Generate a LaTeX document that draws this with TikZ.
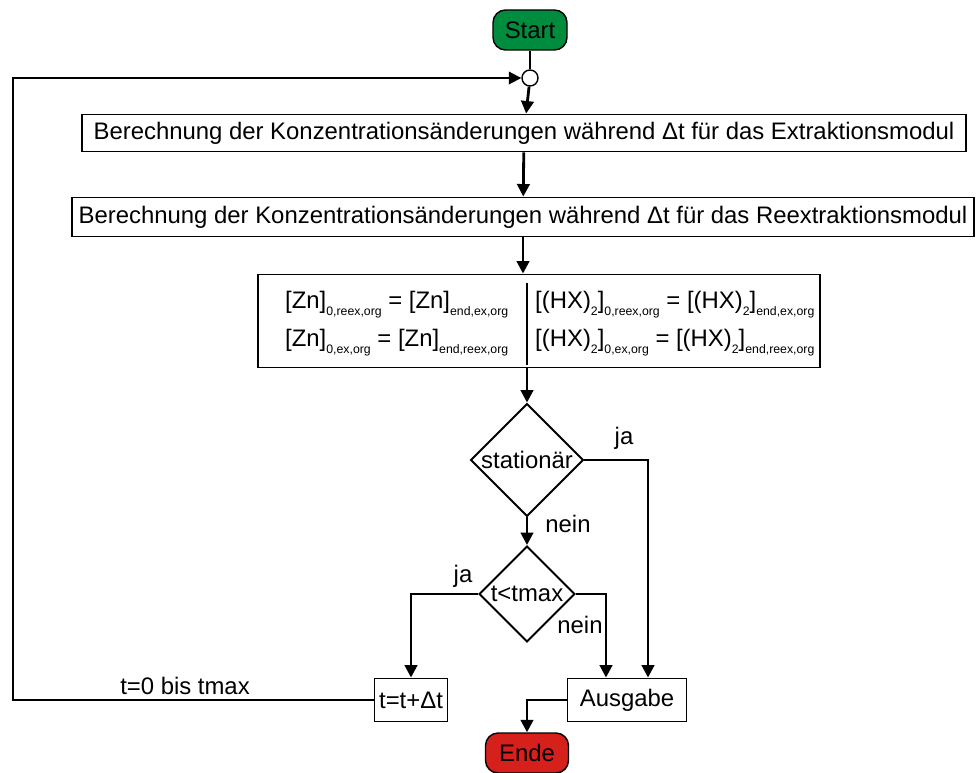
\documentclass[tikz,border=0pt]{standalone}
\usepackage{fontspec}
\setmainfont{Liberation Sans}
\usetikzlibrary{arrows.meta,positioning,shapes.geometric}

\definecolor{startgreen}{RGB}{0,140,62}
\definecolor{endred}{RGB}{214,32,28}
\newcommand\idx[1]{\raisebox{-0.55ex}{\fontsize{7}{8}\selectfont #1}}

\begin{document}
\begin{tikzpicture}[x=0.02cm,y=-0.02cm,
  font=\fontsize{13.6}{16}\selectfont,
  term/.style={rectangle, rounded corners=2.5mm, draw, line width=0.8pt, inner sep=0pt},
  calc/.style={rectangle, draw, line width=1.1pt, inner sep=0pt},
  decide/.style={diamond, draw, line width=1.1pt, inner sep=0pt, aspect=1},
  arrow/.style={-{Triangle[length=2.5mm,width=2.5mm]}, line width=1.6pt},
  link/.style={line width=1.1pt}
]
\useasboundingbox (0,0) rectangle (976,773);

% start, loop junction and the two balance steps
\node[term, fill=startgreen, minimum width=1.48cm, minimum height=0.8cm] (start) at (530,30) {Start};
\node[circle, draw, fill=white, line width=0.8pt, minimum size=0.32cm, inner sep=0pt] (join) at (530,78) {};
\node[calc, minimum width=17.7cm, minimum height=0.74cm] (ext) at (524,133)
  {Berechnung der Konzentrationsänderungen während Δt für das Extraktionsmodul};
\node[calc, minimum width=18.06cm, minimum height=0.78cm] (reex) at (523,217)
  {Berechnung der Konzentrationsänderungen während Δt für das Reextraktionsmodul};

% exchange of the start values between both modules
\node[calc, minimum width=11.24cm, minimum height=1.86cm] (swap) at (539,321) {};
\node[anchor=west] (zn1) at (279,305) {[Zn]\idx{0,reex,org} = [Zn]\idx{end,ex,org}};
\node[anchor=west] (zn2) at (279,343) {[Zn]\idx{0,ex,org} = [Zn]\idx{end,reex,org}};
\node[anchor=west] (hx1) at (529,305) {[(HX)\idx{2}]\idx{0,reex,org} = [(HX)\idx{2}]\idx{end,ex,org}};
\node[anchor=west] (hx2) at (529,343) {[(HX)\idx{2}]\idx{0,ex,org} = [(HX)\idx{2}]\idx{end,reex,org}};
\draw[line width=0.6pt] (527,283) -- (527,365);

% decisions
\node[decide, minimum size=2.26cm] (stat) at (527,460) {stationär};
\node[decide, minimum size=1.92cm] (tmax) at (527,594) {t<tmax};

% time step, output and end
\node[calc, minimum width=1.46cm, minimum height=0.86cm] (step) at (411,700) {t=t+Δt};
\node[calc, minimum width=2.38cm, minimum height=0.86cm] (out) at (627,700) {Ausgabe};
\node[term, fill=endred, minimum width=1.66cm, minimum height=0.8cm] (ende) at (527,753) {Ende};

\draw[link] (start) -- (join);
\draw[arrow] (join) -- (ext);
\draw[arrow] (ext) -- (reex);
\draw[arrow] (reex) -- (swap.north -| reex);
\draw[arrow] (swap.south -| stat) -- (stat);
\draw[arrow] (stat) -- (tmax);
\draw[arrow] (stat.east) -| (648,0 |- out.north);
\draw[arrow] (tmax.east) -| (606,0 |- out.north);
\draw[arrow] (tmax.west) -| (step.north);
\draw[arrow] (out.west) -| (ende.north);
\draw[arrow, line width=1.1pt] (step.west) -- (13,700) |- (join.west);

\node (ja1) at (624,438) {ja};
\node (nein1) at (568,524) {nein};
\node (ja2) at (463,576) {ja};
\node (nein2) at (580,625) {nein};
\node (loop) at (185,686) {t=0 bis tmax};
\end{tikzpicture}
\end{document}
